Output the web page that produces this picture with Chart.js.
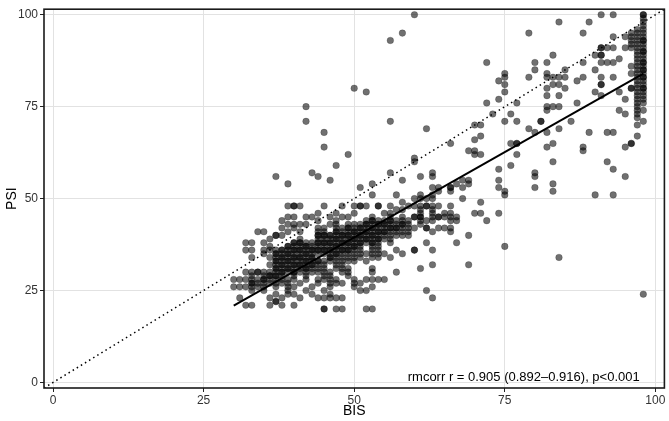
<!DOCTYPE html>
<html>
<head>
<meta charset="utf-8">
<script src="https://cdn.jsdelivr.net/npm/chart.js@4/dist/chart.umd.min.js"></script>
<style>
  html, body { margin: 0; padding: 0; background: #ffffff; }
  #wrap { width: 669px; height: 421px; }
</style>
</head>
<body>
<div id="wrap"><canvas id="scatterChart" width="669" height="421"></canvas></div>
<script>
// BIS value of each column and the PSI readings at that BIS
// (repeated values are repeated measurements that overlap)
const bisColumns = [30, 31, 32, 33, 34, 35, 36, 37, 38, 39,
                    40, 41, 42, 43, 44, 45, 46, 47, 48, 49,
                    50, 51, 52, 53, 54, 55, 56, 57, 58, 59,
                    60, 61, 62, 63, 64, 65, 66, 67, 68, 69,
                    70, 71, 72, 73, 74, 75, 76, 77, 79, 80,
                    81, 82, 83, 84, 85, 86, 87, 88, 89, 90,
                    91, 92, 93, 94, 95, 96, 97, 98];

const psiByBis = [
  [26, 28],
  [23, 26, 28],
  [21, 26, 28, 30, 36, 38],
  [21, 25, 26, 27, 27, 28, 29, 30, 34, 36, 38],
  [26, 27, 28, 30, 30, 41],
  [25, 26, 27, 28, 28, 29, 30, 35, 36, 38, 41],
  [21, 23, 27, 28, 29, 29, 30, 32, 34, 36, 37, 39],
  [22, 22, 24, 26, 27, 28, 29, 29, 30, 31, 31, 32, 33, 33, 34, 35, 35, 36, 40, 40, 56],
  [21, 23, 27, 28, 29, 30, 30, 31, 32, 32, 33, 34, 34, 35, 36, 36, 40, 42, 44],
  [24, 25, 26, 27, 28, 30, 31, 31, 32, 33, 33, 34, 35, 35, 36, 37, 37, 41, 43, 45, 48, 54],
  [21, 24, 26, 28, 29, 30, 30, 31, 32, 32, 33, 34, 34, 35, 36, 36, 37, 38, 38, 42, 43, 45, 48, 48],
  [23, 27, 30, 31, 32, 32, 33, 34, 34, 35, 36, 36, 37, 38, 38, 39, 41, 43, 48],
  [25, 28, 29, 30, 31, 31, 32, 33, 33, 34, 35, 35, 36, 37, 37, 38, 43, 45, 71, 75],
  [24, 26, 30, 31, 32, 32, 33, 34, 34, 35, 36, 36, 37, 38, 45, 57],
  [23, 27, 28, 30, 31, 32, 33, 33, 35, 36, 36, 37, 38, 38, 39, 40, 40, 41, 42, 44, 46, 56],
  [20, 20, 23, 25, 28, 29, 30, 31, 32, 33, 35, 36, 36, 37, 38, 38, 39, 40, 40, 41, 42, 48, 64, 68],
  [23, 24, 26, 27, 28, 29, 30, 33, 34, 34, 35, 36, 36, 37, 38, 38, 39, 40, 40, 43, 45, 55],
  [20, 23, 27, 28, 31, 32, 33, 34, 35, 35, 36, 37, 37, 38, 39, 39, 40, 41, 41, 42, 43, 44, 46, 59],
  [20, 23, 27, 30, 31, 32, 33, 34, 35, 36, 36, 37, 38, 38, 39, 40, 40, 41, 42, 45, 48],
  [29, 30, 31, 33, 34, 35, 36, 36, 37, 38, 38, 39, 40, 40, 41, 42, 42, 43, 45, 62],
  [26, 27, 28, 33, 34, 35, 36, 37, 37, 38, 39, 39, 40, 41, 41, 42, 43, 46, 48, 80],
  [25, 27, 34, 35, 36, 37, 38, 38, 39, 40, 40, 41, 42, 42, 43, 48, 48, 53],
  [20, 25, 28, 33, 35, 38, 39, 39, 40, 41, 41, 42, 43, 43, 44, 48, 79],
  [20, 26, 28, 30, 31, 34, 35, 36, 37, 38, 38, 39, 40, 40, 41, 42, 42, 43, 44, 44, 45, 51, 54],
  [28, 34, 35, 36, 37, 38, 39, 39, 40, 41, 41, 42, 43, 43, 44, 48, 48],
  [28, 35, 39, 40, 41, 41, 42, 43, 43, 44, 46],
  [34, 38, 39, 40, 41, 42, 42, 43, 44, 44, 45, 46, 48, 57, 71, 93],
  [30, 36, 40, 41, 42, 42, 43, 44, 47, 51],
  [35, 40, 41, 42, 43, 43, 44, 45, 47, 49, 55, 95],
  [40, 41, 42, 43, 44, 48],
  [36, 36, 42, 45, 45, 48, 50, 60, 61, 100],
  [31, 43, 44, 45, 45, 46, 47, 48, 50, 51, 56],
  [25, 38, 42, 42, 44, 48, 48, 50, 69],
  [23, 32, 36, 41, 44, 45, 46, 47, 48, 50, 51, 53, 56, 57],
  [42, 45, 45, 48, 52, 53],
  [42, 45, 46],
  [41, 42, 44, 45, 46, 48, 52, 53, 53, 65],
  [38, 44, 45, 54],
  [50, 53, 55],
  [32, 40, 54, 55, 63],
  [46, 62, 63, 66, 70],
  [46, 49, 62, 67, 70],
  [44, 76, 87],
  [73],
  [46, 53, 55, 58, 77, 82],
  [37, 51, 52, 71, 79, 81, 83, 84],
  [59, 65, 73],
  [62, 65, 65, 71, 76],
  [69, 83, 95],
  [53, 56, 57, 68, 85, 87],
  [71, 71],
  [64, 68, 74, 75, 78, 80, 83, 84, 87],
  [52, 54, 60, 65, 75, 81, 83, 89],
  [34, 69, 75, 78, 81, 83, 98],
  [80, 83, 85],
  [71],
  [76, 82],
  [63, 64, 83, 87, 95],
  [68, 98],
  [51, 79, 85, 89],
  [78, 81, 81, 83, 87, 89, 89, 91, 91, 100],
  [60, 68, 87, 91],
  [51, 58, 68, 83, 87, 91, 94, 100],
  [74, 79, 88],
  [56, 64, 73, 77, 91, 94],
  [65, 65, 80, 80, 84, 86, 91, 92, 93, 94, 95],
  [67, 70, 72, 73, 74, 75, 76, 77, 78, 79, 80, 81, 82, 83, 84, 85, 86, 87, 88, 89, 90, 91, 92, 93, 94, 95, 96],
  [24, 71, 74, 76, 77, 78, 79, 80, 80, 81, 82, 83, 83, 84, 85, 85, 86, 87, 87, 88, 89, 90, 90, 91, 92, 93, 93, 94, 95, 96, 97, 98, 99, 100, 100]
];

// rmcorr fit line ends and the identity line
const fitBis = [30, 98];
const fitPsi = [20.9, 84];
const identityLine = [-1.5, 101.5];
const tickValues = [0, 25, 50, 75, 100];
const annotationText = "rmcorr r = 0.905 (0.892\u20130.916), p<0.001";

const points = [];
bisColumns.forEach((b, i) => {
  psiByBis[i].forEach(p => points.push({x: b, y: p}));
});

const fitData = fitBis.map((b, i) => ({x: b, y: fitPsi[i]}));
const identityData = identityLine.map(v => ({x: v, y: v}));

const FONT = "'Liberation Sans', Arial, Helvetica, sans-serif";

// panel border + annotation text
const panelPlugin = {
  id: 'panel',
  afterDraw(chart){
    const {ctx, chartArea: a, scales} = chart;
    ctx.save();
    ctx.strokeStyle = '#1a1a1a';
    ctx.lineWidth = 1.6;
    ctx.strokeRect(a.left, a.top, a.right - a.left, a.bottom - a.top);
    ctx.fillStyle = '#000';
    ctx.font = "13px " + FONT;
    ctx.textAlign = 'right';
    ctx.textBaseline = 'middle';
    ctx.fillText(annotationText, scales.x.getPixelForValue(97.4), scales.y.getPixelForValue(1.3));
    ctx.restore();
  }
};

const ctx = document.getElementById("scatterChart").getContext("2d");

const chart = new Chart(ctx, {
  type: 'scatter',
  data: {
    datasets: [{
      label: 'observations',
      data: points,
      backgroundColor: 'rgba(0,0,0,0.56)',
      borderColor: 'rgba(0,0,0,0.35)',
      borderWidth: 0.6,
      pointRadius: 3.3,
      order: 3
    }, {
      type: 'line',
      label: 'rmcorr fit',
      data: fitData,
      borderColor: '#000',
      borderWidth: 2,
      pointRadius: 0,
      fill: false,
      order: 1
    }, {
      type: 'line',
      label: 'identity',
      data: identityData,
      borderColor: '#000',
      borderWidth: 1.5,
      borderDash: [1.5, 3.3],
      pointRadius: 0,
      fill: false,
      order: 2
    }]
  },
  options: {
    responsive: false,
    animation: false,
    layout: { padding: { top: 1, right: 1, left: 0, bottom: 0 } },
    plugins: {
      legend: { display: false },
      tooltip: { enabled: false }
    },
    scales: {
      x: {
        type: 'linear',
        min: -1.5,
        max: 101.5,
        afterBuildTicks: s => { s.ticks = tickValues.map(v => ({value: v})); },
        afterFit: s => { s.height = 33; },
        grid: { color: '#e2e2e2', lineWidth: 1, tickColor: '#222', tickLength: 4 },
        border: { display: false },
        ticks: { color: '#333', font: { size: 12, family: FONT }, padding: 1, maxRotation: 0 },
        title: { display: true, text: 'BIS', color: '#000', font: { size: 14, family: FONT }, padding: { top: 0, bottom: 1 } }
      },
      y: {
        type: 'linear',
        min: -1.5,
        max: 101.5,
        afterBuildTicks: s => { s.ticks = tickValues.map(v => ({value: v})); },
        afterFit: s => { s.width = 44; },
        grid: { color: '#e2e2e2', lineWidth: 1, tickColor: '#222', tickLength: 4 },
        border: { display: false },
        ticks: { color: '#333', font: { size: 12, family: FONT }, padding: 2 },
        title: { display: true, text: 'PSI', color: '#000', font: { size: 14, family: FONT }, padding: { top: 4, bottom: 0 } }
      }
    }
  },
  plugins: [panelPlugin]
});
</script>
</body>
</html>
